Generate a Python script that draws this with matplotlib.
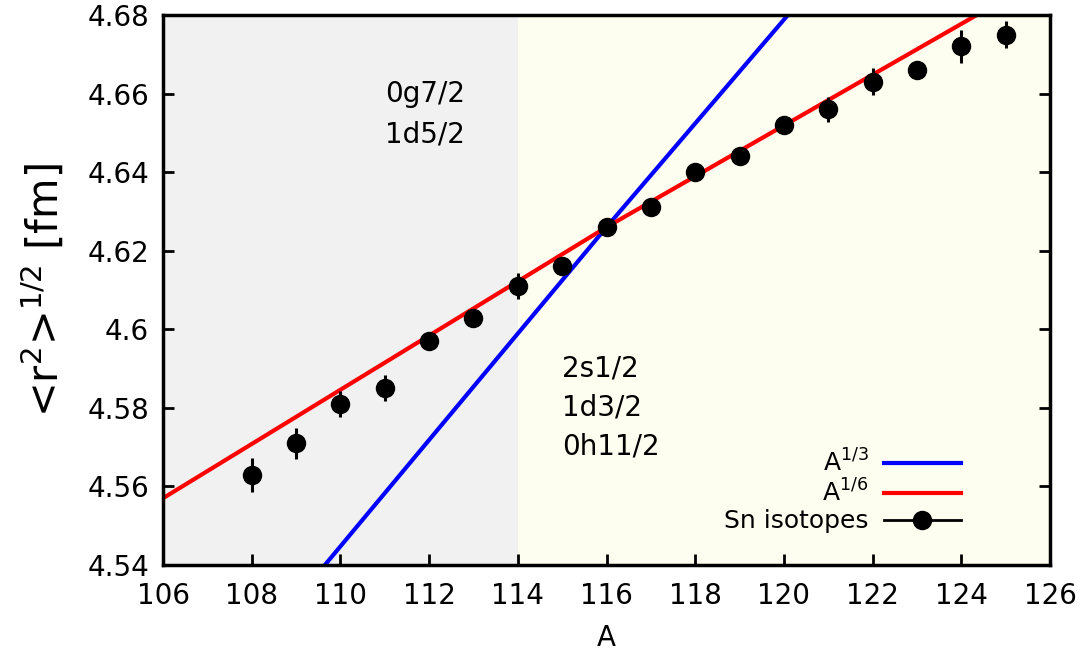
"""Sn isotopes charge radii vs A"""

import matplotlib
matplotlib.use('Agg')
import matplotlib.pyplot as plt
from matplotlib.lines import Line2D
from matplotlib.ticker import FormatStrFormatter

plt.rcParams['font.family'] = ['DejaVu Sans']
plt.rcParams['mathtext.fontset'] = 'dejavusans'

# data
mass_a = [108, 109, 110, 111, 112, 113, 114, 115, 116, 117,
          118, 119, 120, 121, 122, 123, 124, 125]
radius = [4.563, 4.571, 4.581, 4.585, 4.597, 4.603, 4.611, 4.616, 4.626, 4.631,
          4.640, 4.644, 4.652, 4.656, 4.663, 4.666, 4.672, 4.675]
radius_err = [0.0043, 0.004, 0.0033, 0.0033, 0.001, 0.001, 0.0034, 0.001, 0.001, 0.001,
              0.001, 0.001, 0.001, 0.0032, 0.0034, 0.001, 0.0043, 0.0034]

# scaling lines (read at the frame edges and the crossing point)
a13_x = [109.65, 116, 120.09]
a13_y = [4.54, 4.626, 4.68]
a16_x = [106, 116, 124.35]
a16_y = [4.557, 4.626, 4.68]

x_ticks = list(range(106, 127, 2))
y_ticks = [4.54, 4.56, 4.58, 4.60, 4.62, 4.64, 4.66, 4.68]

fig = plt.figure(figsize=(10.88, 6.56), dpi=100)
ax = fig.add_axes([163 / 1088, 1 - 565 / 656, 887 / 1088, 550 / 656])

# shaded shells
ax.axvspan(106, 114, color='#f1f1f1', lw=0, zorder=0)
ax.axvspan(114, 126, color='#fefef0', lw=0, zorder=0)

ax.plot(a13_x, a13_y, color='#0000ff', lw=3, zorder=2)
ax.plot(a16_x, a16_y, color='#ff0000', lw=3, zorder=2)
ax.errorbar(mass_a, radius, yerr=radius_err, fmt='o', color='black',
            ms=13, elinewidth=2.2, capsize=0, zorder=3)

ax.text(111, 4.6547, '0g7/2\n1d5/2', fontsize=20, ha='left', va='center',
        linespacing=1.55)
ax.text(115, 4.58, '2s1/2\n1d3/2\n0h11/2', fontsize=20, ha='left', va='center',
        linespacing=1.5)

ax.set_xlim(106, 126)
ax.set_ylim(4.54, 4.68)
ax.set_xticks(x_ticks)
ax.set_yticks(y_ticks)
ax.yaxis.set_major_formatter(FormatStrFormatter('%g'))
ax.tick_params(direction='in', length=8, width=2, labelsize=20,
               top=False, right=True)
ax.tick_params(axis='x', pad=12)
ax.tick_params(axis='y', pad=10)
for s in ax.spines.values():
    s.set_linewidth(2.5)

ax.set_xlabel('A', fontsize=20, labelpad=10)
ax.set_ylabel(r'<r$^2$>$^{1/2}$ [fm]', fontsize=30, labelpad=14)

handles = [Line2D([], [], color='#0000ff', lw=3),
           Line2D([], [], color='#ff0000', lw=3),
           Line2D([], [], color='black', lw=2, marker='o', ms=13)]
ax.legend(handles, [r'A$^{1/3}$', r'A$^{1/6}$', 'Sn isotopes'],
          loc='lower right', bbox_to_anchor=(0.914, 0.035), frameon=False,
          markerfirst=False, fontsize=18, handlelength=3.1,
          borderpad=0, labelspacing=0.1, handletextpad=0.6)

plt.savefig('out.png', dpi=100)
